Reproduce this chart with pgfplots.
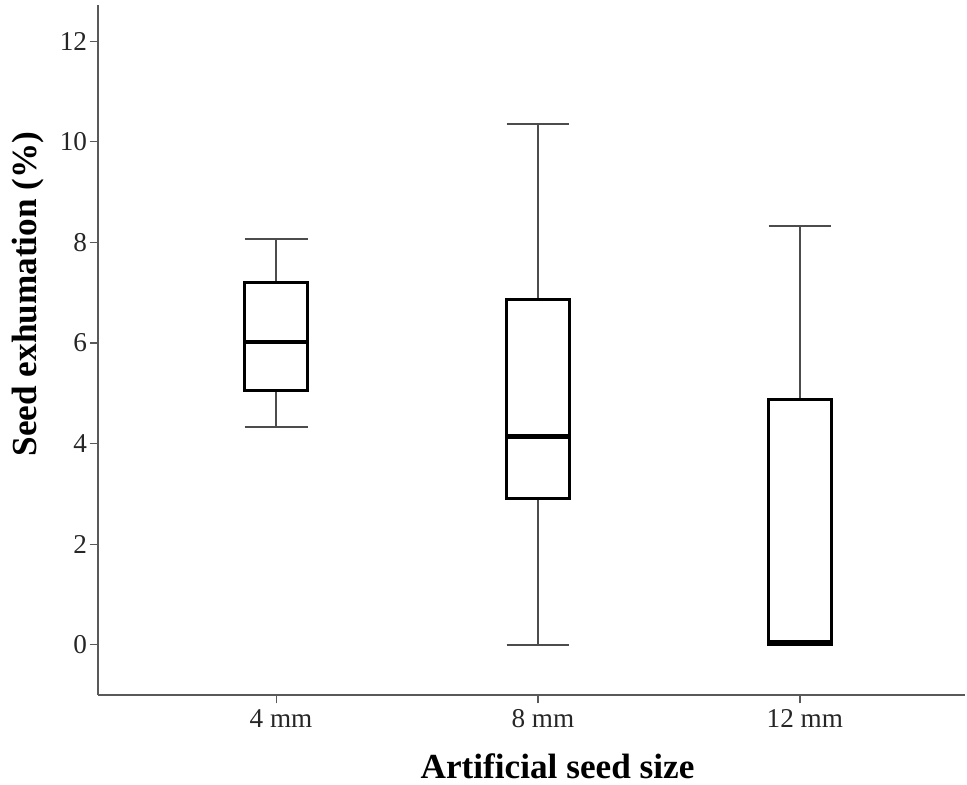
\documentclass[border=0pt]{standalone}
\usepackage{pgfplots}
\pgfplotsset{compat=1.18}
\usepgfplotslibrary{statistics}
\usepackage{fontspec}
\setmainfont{Liberation Serif}
\begin{document}
\begin{tikzpicture}
\begin{axis}[
  name=ax,
  scale only axis,
  width=12.552cm, height=9.990cm,
  xmin=0.32, xmax=3.63,
  ymin=-1.0, ymax=12.72,
  axis x line*=bottom, axis y line*=left,
  axis line style={gray!70!black, line width=0.6pt},
  xtick={1,2,3},
  xticklabels={4 mm,8 mm,12 mm},
  ytick={0,2,4,6,8,10,12},
  tick style={gray!70!black, line width=0.5pt},
  tick align=outside,
  major tick length=3.5pt,
  /pgf/number format/assume math mode=true,
  ticklabel style={font=\fontsize{11.2}{13}\selectfont, text=black!85},
  xticklabel style={yshift=1pt, xshift=2pt},
  yticklabel style={xshift=2.5pt},
  xlabel={\textbf{Artificial seed size}},
  ylabel={\textbf{Seed exhumation (\%)}},
  label style={font=\fontsize{14.5}{17}\selectfont},
  xlabel style={at={(axis description cs:0.53,-0.103)}, anchor=center},
  ylabel style={at={(axis description cs:-0.081,0.581)}, anchor=center},
  clip=false,
  boxplot/draw direction=y,
  boxplot/every whisker/.style={gray!60!black, line width=0.7pt},
  boxplot/every median/.style={black, line width=2pt},
  boxplot/every box/.style={black, line width=1.3pt},
]
\addplot+[black, mark=none,
  boxplot prepared={lower whisker=4.33, lower quartile=5.05, median=6.02, upper quartile=7.20, upper whisker=8.07, draw position=1, box extend=0.24, whisker extend=0.24}
] coordinates {};
\addplot+[black, mark=none,
  boxplot prepared={lower whisker=0.0, lower quartile=2.90, median=4.14, upper quartile=6.86, upper whisker=10.36, draw position=2, box extend=0.24, whisker extend=0.24}
] coordinates {};
\addplot+[black, mark=none,
  boxplot prepared={lower whisker=0.0, lower quartile=0.0, median=0.04, upper quartile=4.87, upper whisker=8.33, draw position=3, box extend=0.24, whisker extend=0.24}
] coordinates {};
\coordinate (ll) at (rel axis cs:0,0);
\coordinate (ur) at (rel axis cs:1,1);
\end{axis}
\pgfresetboundingbox
\path[use as bounding box] ([xshift=-1.419cm,yshift=-1.289cm]ll) rectangle ([xshift=0.029cm,yshift=0.072cm]ur);
\end{tikzpicture}
\end{document}
